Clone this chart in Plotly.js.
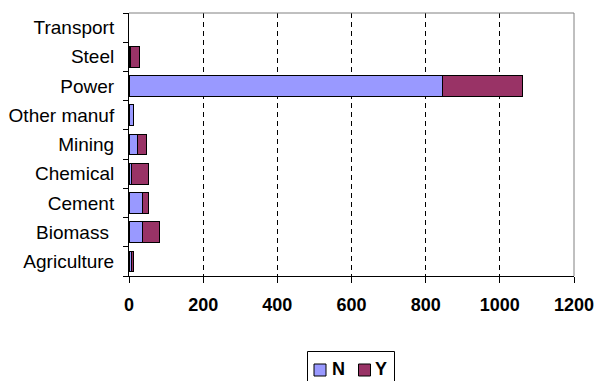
<!DOCTYPE html>
<html>
<head>
<meta charset="utf-8">
<script src="https://cdn.plot.ly/plotly-3.0.1.min.js"></script>
<style>
  html, body { margin: 0; padding: 0; background: #fff; }
  #chart { width: 599px; height: 381px; }
</style>
</head>
<body>
<div id="chart"></div>
<script>
// Sectors, listed bottom to top
const sectors = ["Agriculture", "Biomass\u00a0", "Cement", "Chemical", "Mining", "Other manuf", "Power", "Steel", "Transport"];
// Stacked values per sector (null = nothing drawn)
const valuesN = [8, 37, 36, 8, 22, 12, 845, 3, null];
const valuesY = [4, 44, 17, 45, 25, null, 215, 25, null];
const xTicks = [0, 200, 400, 600, 800, 1000, 1200];
const seriesNames = ["N", "Y"];
const seriesColors = ["#9999FF", "#993366"];

const FONT = "Liberation Sans, Arial, sans-serif";
const W = 599, H = 381;
const M = { l: 129, r: 25, t: 13, b: 105 };
const plotW = W - M.l - M.r, plotH = H - M.t - M.b;

// pixel -> paper helpers for the hand-built legend box
const px = v => (v - M.l) / plotW;
const py = v => (H - M.b - v) / plotH;

const traces = [valuesN, valuesY].map((vals, i) => ({
  type: "bar", orientation: "h", name: seriesNames[i],
  y: sectors, x: vals,
  marker: { color: seriesColors[i], line: { color: "#000000", width: 1 } }
}));

// Legend: framed box with square swatches and bold labels
const legendShapes = [
  { type: "rect", xref: "paper", yref: "paper", x0: px(307.5), x1: px(394.5), y0: py(385), y1: py(351.5),
    line: { color: "#000000", width: 1 }, fillcolor: "rgba(0,0,0,0)", layer: "above" }
];
const legendNotes = [];
const swatchX = [314, 358.5];
const labelX = [338.5, 381];
seriesNames.forEach((name, i) => {
  legendShapes.push({ type: "rect", xref: "paper", yref: "paper",
    x0: px(swatchX[i]), x1: px(swatchX[i] + 12), y0: py(376), y1: py(364),
    fillcolor: seriesColors[i], line: { color: "#000000", width: 1 }, layer: "above" });
  legendNotes.push({ xref: "paper", yref: "paper", x: px(labelX[i]), y: py(369.5),
    xanchor: "center", yanchor: "middle", showarrow: false, text: name,
    font: { family: FONT, size: 18, weight: "bold", color: "#000000" } });
});

const layout = {
  width: W, height: H,
  margin: M,
  paper_bgcolor: "#ffffff", plot_bgcolor: "#ffffff",
  barmode: "stack", bargap: 0.29,
  font: { family: FONT, size: 18, color: "#000000" },
  showlegend: false,
  xaxis: {
    range: [0, 1200], tickvals: xTicks, ticktext: xTicks.map(String),
    showline: true, linecolor: "#000000", linewidth: 1,
    ticks: "outside", ticklen: 6, tickcolor: "#000000",
    showgrid: true, gridcolor: "#000000", gridwidth: 1, griddash: "5px,4px",
    zeroline: false,
    tickfont: { family: FONT, size: 18, weight: "bold" },
    ticklabelstandoff: 6
  },
  yaxis: {
    type: "category", categoryorder: "array", categoryarray: sectors,
    showline: true, linecolor: "#000000", linewidth: 1,
    ticks: "outside", ticklen: 5, tickcolor: "#000000", tickson: "boundaries",
    showgrid: false, zeroline: false,
    tickfont: { family: FONT, size: 19 },
    ticklabelstandoff: 10
  },
  shapes: [
    { type: "line", xref: "paper", yref: "paper", x0: 0, x1: 1, y0: 1, y1: 1, line: { color: "#808080", width: 1 }, layer: "above" },
    { type: "line", xref: "paper", yref: "paper", x0: 1, x1: 1, y0: 0, y1: 1, line: { color: "#808080", width: 1 }, layer: "above" }
  ].concat(legendShapes),
  annotations: legendNotes
};

Plotly.newPlot("chart", traces, layout, { staticPlot: true, displayModeBar: false });
</script>
</body>
</html>
